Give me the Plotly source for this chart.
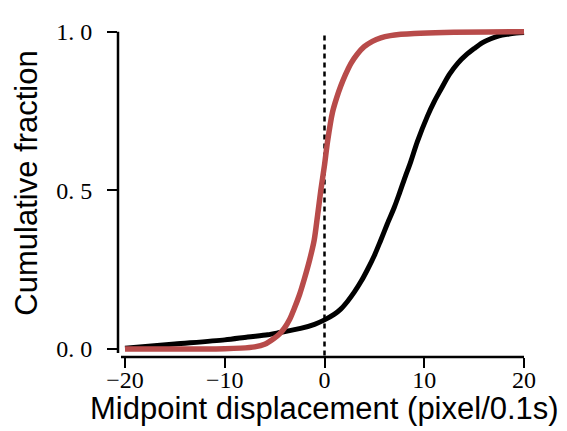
import plotly.graph_objects as go

# Data (cumulative fraction curves)
black_x = [-20, -15, -10, -7.7, -5.7, -4.5, -2.4, -1.0, 0, 1.0, 1.6, 2.3, 3.0, 3.7, 4.3, 5.0, 5.6, 6.3, 7.0, 7.5, 8.0, 8.65, 9.3, 10.33, 11.0, 11.66, 12.5, 13.33, 14.2, 15.0, 15.8, 16.67, 17.5, 18.3, 19.2, 20]
black_y = [0.003, 0.016, 0.029, 0.038, 0.045, 0.052, 0.065, 0.078, 0.092, 0.11, 0.125, 0.15, 0.18, 0.215, 0.25, 0.295, 0.34, 0.395, 0.447, 0.49, 0.535, 0.591, 0.653, 0.735, 0.78, 0.818, 0.865, 0.9, 0.927, 0.947, 0.965, 0.978, 0.987, 0.992, 0.996, 0.998]

red_x = [-20, -14, -10, -8.4, -7.0, -6.0, -5.04, -4.5, -4.04, -3.5, -3.04, -2.5, -2.03, -1.5, -1.03, -0.7, -0.37, 0.0, 0.3, 0.8, 1.2, 1.63, 2.1, 2.64, 3.3, 3.98, 4.8, 5.64, 6.6, 7.65, 9.0, 12, 20]
red_y = [0.0, 0.0, 0.001, 0.003, 0.007, 0.015, 0.034, 0.048, 0.065, 0.093, 0.127, 0.172, 0.22, 0.28, 0.344, 0.42, 0.5, 0.58, 0.653, 0.746, 0.79, 0.829, 0.865, 0.9, 0.93, 0.953, 0.97, 0.981, 0.988, 0.992, 0.995, 0.998, 1.0]

x_ticks = [-20, -10, 0, 10, 20]
x_tick_labels = ["\u221220", "\u221210", "0", "10", "20"]
y_ticks = [0.0, 0.5, 1.0]
y_tick_labels = ["0. 0", "0. 5", "1. 0"]

x_range = [-20.70, 20.60]
y_range = [-0.025, 1.0214]

fig = go.Figure()
fig.add_trace(go.Scatter(x=black_x, y=black_y, mode="lines",
                         line=dict(color="#000000", width=5, shape="spline", smoothing=0.8),
                         showlegend=False))
fig.add_trace(go.Scatter(x=red_x, y=red_y, mode="lines",
                         line=dict(color="#B84B4A", width=5.5, shape="spline", smoothing=0.8),
                         showlegend=False))
# invisible trace to host the label axis
fig.add_trace(go.Scatter(x=black_x, y=black_y, mode="lines", xaxis="x2", yaxis="y",
                         line=dict(width=0), opacity=0, hoverinfo="skip", showlegend=False))

# dashed vertical reference line at x = 0
fig.add_shape(type="line", xref="x", yref="y", x0=0, x1=0, y0=-0.02, y1=1.0,
              line=dict(color="black", width=2.5, dash="5px,4px"), layer="below")
# offset spines
fig.add_shape(type="line", xref="paper", yref="y", x0=0, x1=0, y0=-0.012, y1=1.0,
              line=dict(color="black", width=2.5))
fig.add_shape(type="line", xref="x", yref="paper", x0=-20.4, x1=20, y0=0, y1=0,
              line=dict(color="black", width=2.5))

tick_font = dict(family="Liberation Serif, Times New Roman, serif", size=24, color="black")

fig.update_layout(
    xaxis=dict(range=x_range, tickvals=x_ticks, showticklabels=False,
               ticks="outside", ticklen=10, tickwidth=2, tickcolor="black",
               showgrid=False, zeroline=False, showline=False),
    xaxis2=dict(range=x_range, overlaying="x", side="bottom", anchor="y",
                tickvals=x_ticks, ticktext=x_tick_labels, ticks="",
                showgrid=False, zeroline=False, showline=False,
                tickfont=tick_font, ticklabelstandoff=6),
    yaxis=dict(range=y_range, tickvals=y_ticks, ticktext=y_tick_labels,
               ticks="outside", ticklen=10, tickwidth=2, tickcolor="black",
               showgrid=False, zeroline=False, showline=False,
               tickfont=tick_font, ticklabelstandoff=10),
)

title_font = dict(family="Liberation Sans, Arial, sans-serif", size=31, color="black")
fig.add_annotation(text="Midpoint displacement (pixel/0.1s)", xref="paper", yref="paper",
                   x=0.501, y=-0.155, xanchor="center", yanchor="middle",
                   showarrow=False, font=title_font)
fig.add_annotation(text="Cumulative fraction", xref="paper", yref="paper",
                   x=-0.221, y=0.525, xanchor="center", yanchor="middle", textangle=-90,
                   showarrow=False, font=title_font)

fig.update_layout(width=567, height=431, margin=dict(l=110, r=45, t=11, b=82),
                  plot_bgcolor="white", paper_bgcolor="white")

fig.write_html("out.html")
